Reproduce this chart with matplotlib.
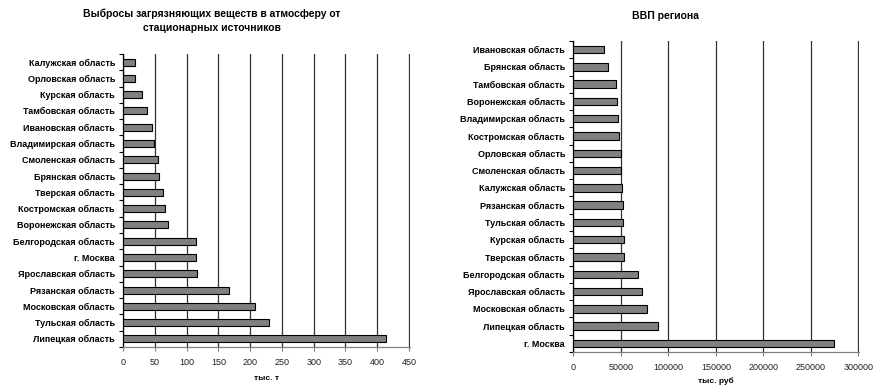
import numpy as np
import matplotlib
matplotlib.use("Agg")
import matplotlib.pyplot as plt

plt.rcParams['font.family'] = ['Liberation Sans', 'DejaVu Sans']

# выбросы, тыс. т (снизу вверх)
emis_regions = ['Липецкая область', 'Тульская область', 'Московская область',
                'Рязанская область', 'Ярославская область', 'г. Москва',
                'Белгородская область', 'Воронежская область', 'Костромская область',
                'Тверская область', 'Брянская область', 'Смоленская область',
                'Владимирская область', 'Ивановская область', 'Тамбовская область',
                'Курская область', 'Орловская область', 'Калужская область']
emis_values = [414, 230, 207, 167, 116, 115, 115, 71, 65, 63, 56, 54, 48, 46, 37, 30, 19, 19]

# ВВП региона, тыс. руб (снизу вверх)
gdp_regions = ['г. Москва', 'Липецкая область', 'Московская область',
               'Ярославская область', 'Белгородская область', 'Тверская область',
               'Курская область', 'Тульская область', 'Рязанская область',
               'Калужская область', 'Смоленская область', 'Орловская область',
               'Костромская область', 'Владимирская область', 'Воронежская область',
               'Тамбовская область', 'Брянская область', 'Ивановская область']
gdp_values = [274000, 89500, 78000, 72000, 68500, 53500, 53500, 52500, 52500,
              51500, 50500, 49800, 47600, 46600, 46000, 44500, 37000, 32500]

W, H = 874, 387
fig = plt.figure(figsize=(W / 100, H / 100), dpi=100)


def px_axes(x0, y0, x1, y1):
    return fig.add_axes([x0 / W, 1 - y1 / H, (x1 - x0) / W, (y1 - y0) / H])


def draw_bars(ax, labels, values, xmax, step, xlabel, labelpad):
    y = np.arange(len(values))
    ax.barh(y, values, height=0.43, color='#808080', edgecolor='black',
            linewidth=0.8, zorder=3)
    ax.set_ylim(-0.5, len(values) - 0.5)
    ax.set_xlim(0, xmax * 1.003)
    ax.set_xticks(np.arange(0, xmax + 1, step))
    ax.set_yticks(y)
    ax.set_yticklabels(labels, fontsize=6.5, fontweight='bold')
    ax.set_yticks(np.arange(-0.5, len(values), 1), minor=True)
    ax.tick_params(axis='y', which='major', length=0, pad=6)
    ax.tick_params(axis='y', which='minor', length=3, width=0.8, color='black')
    ax.tick_params(axis='x', length=3, width=0.8, color='#808080', labelsize=6.5,
                   labelcolor='#222222', pad=5)
    ax.xaxis.grid(True, color='#333333', linewidth=0.9, zorder=0)
    for s in ('top', 'right'):
        ax.spines[s].set_visible(False)
    ax.spines['left'].set_color('black')
    ax.spines['left'].set_linewidth(0.9)
    ax.spines['bottom'].set_color('#808080')
    ax.spines['bottom'].set_linewidth(0.9)
    ax.set_xlabel(xlabel, fontsize=6, fontweight='bold', labelpad=labelpad)


ax1 = px_axes(123.3, 54, 409.7, 347)
draw_bars(ax1, emis_regions, emis_values, 450, 50, 'тыс. т', 6)

ax2 = px_axes(573.3, 41, 859.3, 352)
draw_bars(ax2, gdp_regions, gdp_values, 300000, 50000, 'тыс. руб', 4)

fig.text(212 / W, 1 - 21 / H,
         'Выбросы загрязняющих веществ в атмосферу от\nстационарных источников',
         ha='center', va='center', fontsize=7.5, fontweight='bold', linespacing=1.5)
fig.text(666 / W, 1 - 16 / H, 'ВВП региона', ha='center', va='center',
         fontsize=7.5, fontweight='bold')

fig.savefig('out.png', dpi=100, facecolor='white')
